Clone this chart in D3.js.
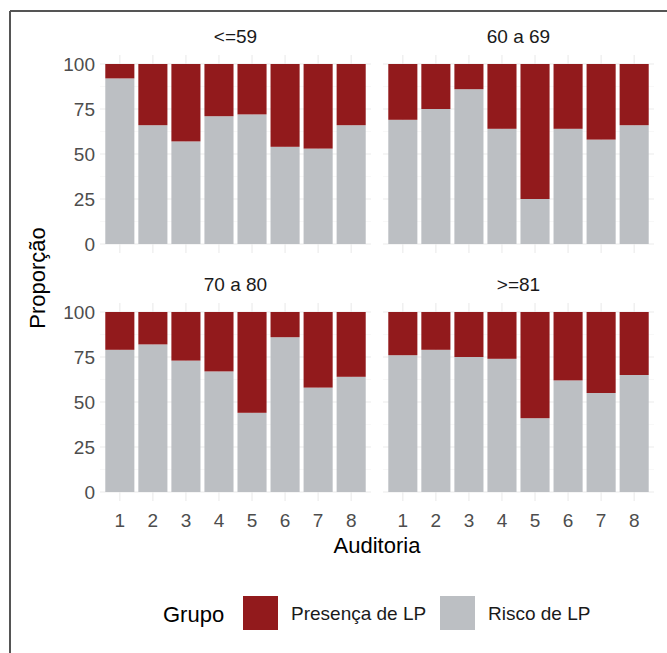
<!DOCTYPE html>
<html>
<head>
<meta charset="utf-8">
<script src="https://cdn.jsdelivr.net/npm/d3@7"></script>
<style>
  html, body { margin: 0; padding: 0; background: #fff; }
  svg { display: block; font-family: "Liberation Sans", Arial, sans-serif; }
</style>
</head>
<body>
<svg id="chart" width="667" height="653"></svg>
<script>
// Data
const auditorias = ["1", "2", "3", "4", "5", "6", "7", "8"];
const faixas = ["<=59", "60 a 69", "70 a 80", ">=81"];
const grupos = ["Presença de LP", "Risco de LP"];
const yTicks = [0, 25, 50, 75, 100];

// Risco de LP (%) per faixa, auditoria 1..8
const risco59 = [92, 66, 57, 71, 72, 54, 53, 66];
const risco6069 = [69, 75, 86, 64, 25, 64, 58, 66];
const risco7080 = [79, 82, 73, 67, 44, 86, 58, 64];
const risco81 = [76, 79, 75, 74, 41, 62, 55, 65];

// Presença de LP (%) per faixa
const presenca59 = [8, 34, 43, 29, 28, 46, 47, 34];
const presenca6069 = [31, 25, 14, 36, 75, 36, 42, 34];
const presenca7080 = [21, 18, 27, 33, 56, 14, 42, 36];
const presenca81 = [24, 21, 25, 26, 59, 38, 45, 35];

const riscoByFaixa = [risco59, risco6069, risco7080, risco81];
const presencaByFaixa = [presenca59, presenca6069, presenca7080, presenca81];

// Styles
const colours = { "Presença de LP": "#921a1c", "Risco de LP": "#bcbfc3" };
const tickColour = "#4d4d4d";
const cols = [[100, 371], [383, 654]];
const rows = [[55, 253], [303, 501]];

const svg = d3.select("#chart");

// Outer frame (top and left edges only)
svg.append("line")
    .attr("x1", 10).attr("x2", 667).attr("y1", 11).attr("y2", 11)
    .attr("stroke", "#555").attr("stroke-width", 2);
svg.append("line")
    .attr("x1", 10).attr("x2", 10).attr("y1", 11).attr("y2", 653)
    .attr("stroke", "#555").attr("stroke-width", 2);

faixas.forEach((faixa, i) => {
    const col = cols[i % 2];
    const row = rows[Math.floor(i / 2)];

    const x = d3.scaleBand()
        .domain(auditorias)
        .range(col)
        .paddingInner(0.12)
        .paddingOuter(0.16);

    const y = d3.scaleLinear()
        .domain([-5, 105])
        .range([row[1], row[0]]);

    const g = svg.append("g");

    // minor gridlines
    g.selectAll(".minor")
        .data([12.5, 37.5, 62.5, 87.5])
        .enter()
        .append("line")
        .attr("x1", col[0]).attr("x2", col[1])
        .attr("y1", d => y(d)).attr("y2", d => y(d))
        .attr("stroke", "#f3f3f3").attr("stroke-width", 0.6);

    // major gridlines
    g.selectAll(".major")
        .data(yTicks)
        .enter()
        .append("line")
        .attr("x1", col[0]).attr("x2", col[1])
        .attr("y1", d => y(d)).attr("y2", d => y(d))
        .attr("stroke", "#ebebeb").attr("stroke-width", 1.1);

    g.selectAll(".vgrid")
        .data(auditorias)
        .enter()
        .append("line")
        .attr("x1", d => x(d) + x.bandwidth() / 2)
        .attr("x2", d => x(d) + x.bandwidth() / 2)
        .attr("y1", row[0]).attr("y2", row[1])
        .attr("stroke", "#ebebeb").attr("stroke-width", 1.1);

    const data = auditorias.map((a, j) => ({
        aud: a,
        risco: riscoByFaixa[i][j],
        presenca: presencaByFaixa[i][j]
    }));

    // Risco de LP (bottom of stack)
    g.selectAll(".risco")
        .data(data)
        .enter()
        .append("rect")
        .attr("x", d => x(d.aud))
        .attr("width", x.bandwidth())
        .attr("y", d => y(d.risco))
        .attr("height", d => y(0) - y(d.risco))
        .attr("fill", colours["Risco de LP"]);

    // Presença de LP (top of stack)
    g.selectAll(".presenca")
        .data(data)
        .enter()
        .append("rect")
        .attr("x", d => x(d.aud))
        .attr("width", x.bandwidth())
        .attr("y", d => y(d.risco + d.presenca))
        .attr("height", d => y(d.risco) - y(d.risco + d.presenca))
        .attr("fill", colours["Presença de LP"]);

    // strip title
    g.append("text")
        .attr("x", (col[0] + col[1]) / 2)
        .attr("y", row[0] - 12)
        .attr("text-anchor", "middle")
        .attr("fill", "#1a1a1a")
        .style("font-size", "19px")
        .text(faixa);

    // y axis labels (left column only)
    if (i % 2 === 0) {
        g.selectAll(".ytick")
            .data(yTicks)
            .enter()
            .append("text")
            .attr("x", col[0] - 5)
            .attr("y", d => y(d))
            .attr("dy", "0.35em")
            .attr("text-anchor", "end")
            .attr("fill", tickColour)
            .style("font-size", "19px")
            .text(d => d);
    }

    // x axis labels (bottom row only)
    if (i >= 2) {
        g.selectAll(".xtick")
            .data(auditorias)
            .enter()
            .append("text")
            .attr("x", d => x(d) + x.bandwidth() / 2)
            .attr("y", row[1] + 26)
            .attr("text-anchor", "middle")
            .attr("fill", tickColour)
            .style("font-size", "19px")
            .text(d => d);
    }
});

// Axis titles
svg.append("text")
    .attr("x", (cols[0][0] + cols[1][1]) / 2)
    .attr("y", 553)
    .attr("text-anchor", "middle")
    .attr("fill", "#000")
    .style("font-size", "22px")
    .text("Auditoria");

svg.append("text")
    .attr("transform", "translate(45,278) rotate(-90)")
    .attr("text-anchor", "middle")
    .attr("fill", "#000")
    .style("font-size", "22px")
    .text("Proporção");

// Legend
const legend = svg.append("g");
legend.append("text")
    .attr("x", 163)
    .attr("y", 622)
    .attr("fill", "#000")
    .style("font-size", "22px")
    .text("Grupo");

const legendX = d3.scaleOrdinal().domain(grupos).range([243, 440]);

legend.selectAll(".key")
    .data(grupos)
    .enter()
    .append("rect")
    .attr("x", d => legendX(d))
    .attr("y", 596)
    .attr("width", 35)
    .attr("height", 34)
    .attr("fill", d => colours[d]);

legend.selectAll(".keyLabel")
    .data(grupos)
    .enter()
    .append("text")
    .attr("x", d => legendX(d) + 48)
    .attr("y", 620)
    .attr("fill", "#1a1a1a")
    .style("font-size", "19px")
    .text(d => d);
</script>
</body>
</html>
